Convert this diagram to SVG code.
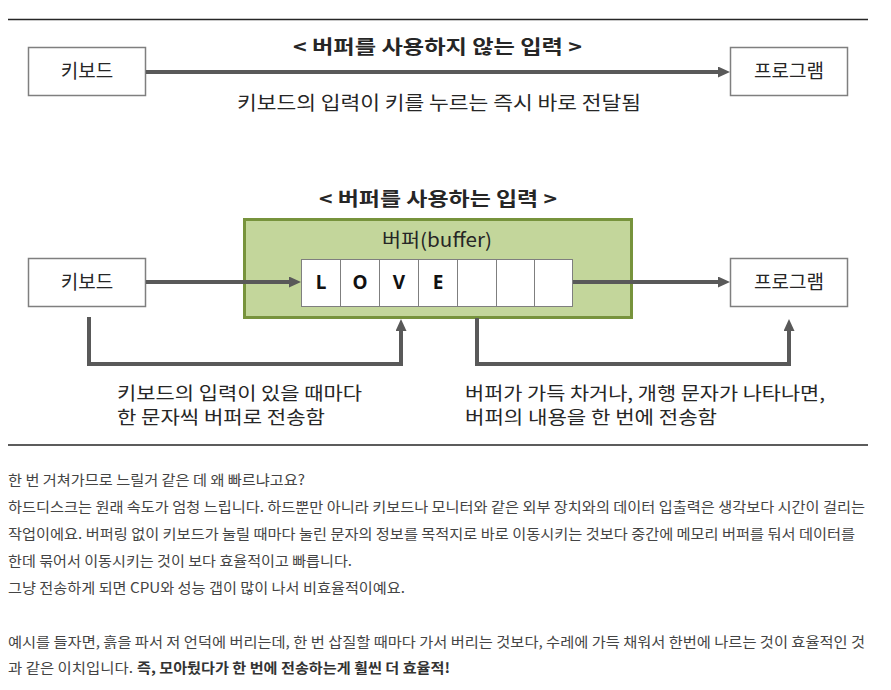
<svg xmlns="http://www.w3.org/2000/svg" width="891" height="690" viewBox="0 0 891 690">
<defs>
<marker id="ah" markerUnits="userSpaceOnUse" markerWidth="12" markerHeight="11" refX="4" refY="5.5" orient="auto">
<path d="M0,0 L12,5.5 L0,11 z" fill="#595959"/>
</marker>
<style>
.t{font-family:"Noto Sans CJK KR","Malgun Gothic",sans-serif;fill:#262626}
.d{font-size:19px}
.s{font-size:18px}
.b{font-weight:bold}
.p{font-size:14px;fill:#444}
.pb{font-size:14px;fill:#333;font-weight:bold}
.box{fill:#fff;stroke:#7f7f7f;stroke-width:1.5}
.cell{fill:#fff;stroke:#7f7f7f;stroke-width:1}
.conn{fill:none;stroke:#595959;stroke-width:4}
.rule{stroke:#262626;stroke-width:1.5}
.lt{font-family:"Noto Sans","Open Sans",sans-serif;font-weight:bold;font-size:19px;fill:#111;text-anchor:middle}
</style>
</defs>
<rect width="891" height="690" fill="#fff"/>
<line class="rule" x1="8" y1="19.5" x2="868" y2="19.5"/>
<line class="rule" x1="8" y1="445" x2="868" y2="445"/>

<g id="labels">
<text class="t d b" x="293" y="54" textLength="289" lengthAdjust="spacingAndGlyphs">&lt; 버퍼를 사용하지 않는 입력 &gt;</text>
<text class="t d" x="237" y="110" textLength="404" lengthAdjust="spacingAndGlyphs">키보드의 입력이 키를 누르는 즉시 바로 전달됨</text>
<text class="t d b" x="319" y="206" textLength="238" lengthAdjust="spacingAndGlyphs">&lt; 버퍼를 사용하는 입력 &gt;</text>
<text class="t s" x="117" y="400" textLength="245" lengthAdjust="spacingAndGlyphs">키보드의 입력이 있을 때마다</text>
<text class="t s" x="117" y="424" textLength="208" lengthAdjust="spacingAndGlyphs">한 문자씩 버퍼로 전송함</text>
<text class="t s" x="465" y="400" textLength="360" lengthAdjust="spacingAndGlyphs">버퍼가 가득 차거나, 개행 문자가 나타나면,</text>
<text class="t s" x="465" y="424" textLength="252" lengthAdjust="spacingAndGlyphs">버퍼의 내용을 한 번에 전송함</text>
</g>

<g id="keyboard1">
<rect class="box" x="28.5" y="47.5" width="117" height="48"/>
<text class="t d" x="87" y="78" text-anchor="middle">키보드</text>
</g>
<g id="program1">
<rect class="box" x="730.5" y="47.5" width="117" height="48"/>
<text class="t d" x="789" y="78" text-anchor="middle">프로그램</text>
</g>

<g id="keyboard2">
<rect class="box" x="28.5" y="258.5" width="117" height="48"/>
<text class="t d" x="87" y="289" text-anchor="middle">키보드</text>
</g>
<g id="program2">
<rect class="box" x="730.5" y="258.5" width="117" height="48"/>
<text class="t d" x="789" y="289" text-anchor="middle">프로그램</text>
</g>

<g id="buffer">
<rect x="244.5" y="219.5" width="387" height="98" fill="#C3D69B" stroke="#77933C" stroke-width="3"/>
<text class="t d" x="382" y="247" textLength="110" lengthAdjust="spacingAndGlyphs">버퍼(buffer)</text>
<rect class="cell" x="301.5" y="259.5" width="39" height="47"/>
<rect class="cell" x="340.5" y="259.5" width="39" height="47"/>
<rect class="cell" x="379.5" y="259.5" width="39" height="47"/>
<rect class="cell" x="418.5" y="259.5" width="39" height="47"/>
<rect class="cell" x="457.5" y="259.5" width="39" height="47"/>
<rect class="cell" x="496.5" y="259.5" width="38" height="47"/>
<rect class="cell" x="534.5" y="259.5" width="38" height="47"/>
<text class="lt" x="321" y="289">L</text>
<text class="lt" x="360" y="289">O</text>
<text class="lt" x="399" y="289">V</text>
<text class="lt" x="438" y="289">E</text>
</g>

<g id="connectors">
<line class="conn" x1="146" y1="72" x2="722" y2="72" marker-end="url(#ah)"/>
<line class="conn" x1="146" y1="282" x2="293" y2="282" marker-end="url(#ah)"/>
<line class="conn" x1="573" y1="282" x2="722" y2="282" marker-end="url(#ah)"/>
<path class="conn" d="M89,317 V364 H401 V327" marker-end="url(#ah)"/>
<path class="conn" d="M477,318 V364 H789 V327" marker-end="url(#ah)"/>
</g>

<g id="paragraph">
<text class="t p" x="8" y="485" textLength="297" lengthAdjust="spacingAndGlyphs">한 번 거쳐가므로 느릴거 같은 데 왜 빠르냐고요?</text>
<text class="t p" x="8" y="512" textLength="857" lengthAdjust="spacingAndGlyphs">하드디스크는 원래 속도가 엄청 느립니다. 하드뿐만 아니라 키보드나 모니터와 같은 외부 장치와의 데이터 입출력은 생각보다 시간이 걸리는</text>
<text class="t p" x="8" y="539" textLength="847" lengthAdjust="spacingAndGlyphs">작업이에요. 버퍼링 없이 키보드가 눌릴 때마다 눌린 문자의 정보를 목적지로 바로 이동시키는 것보다 중간에 메모리 버퍼를 둬서 데이터를</text>
<text class="t p" x="8" y="566" textLength="344" lengthAdjust="spacingAndGlyphs">한데 묶어서 이동시키는 것이 보다 효율적이고 빠릅니다.</text>
<text class="t p" x="8" y="593" textLength="397" lengthAdjust="spacingAndGlyphs">그냥 전송하게 되면 CPU와 성능 갭이 많이 나서 비효율적이예요.</text>
<text class="t p" x="8" y="647" textLength="857" lengthAdjust="spacingAndGlyphs">예시를 들자면, 흙을 파서 저 언덕에 버리는데, 한 번 삽질할 때마다 가서 버리는 것보다, 수레에 가득 채워서 한번에 나르는 것이 효율적인 것</text>
<text class="t p" x="8" y="673" textLength="125" lengthAdjust="spacingAndGlyphs">과 같은 이치입니다.</text>
<text class="t pb" x="137" y="673" textLength="313" lengthAdjust="spacingAndGlyphs">즉, 모아뒀다가 한 번에 전송하는게 휠씬 더 효율적!</text>
</g>
</svg>
